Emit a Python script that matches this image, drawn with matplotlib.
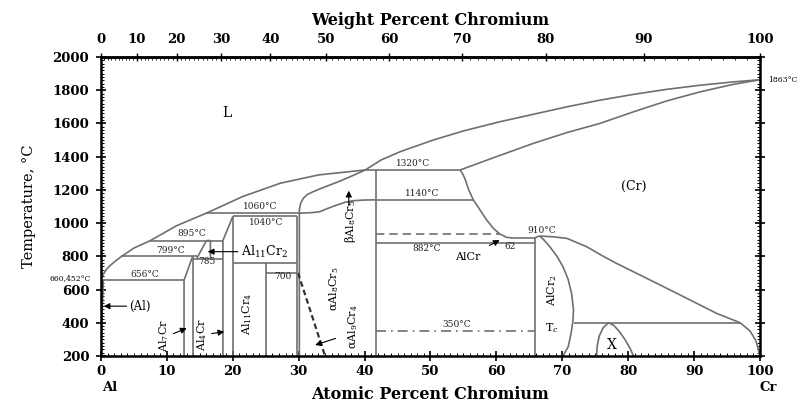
import numpy as np
import matplotlib
matplotlib.use("Agg")
import matplotlib.pyplot as plt
from matplotlib.ticker import MultipleLocator, FixedLocator

plt.rcParams['font.family'] = ['DejaVu Serif']
plt.rcParams['mathtext.fontset'] = 'dejavuserif'

# ---------------- data (atomic % Cr, temperature °C) ----------------
liq_left_x = [0, 0.3, 0.8, 1.4, 2.2, 3.1, 5.0, 7.5, 11.5, 16.0, 21.5, 27.2, 33.0, 40.1]
liq_left_T = [660.452, 690, 720, 745, 772, 799, 850, 895, 985, 1060, 1160, 1240, 1290, 1320]
liq_right_x = [40.1, 42.5, 45.4, 50.4, 55.0, 60.5, 65.6, 70.7, 75.7, 80.8, 85.8, 90.9, 95.9, 100]
liq_right_T = [1320, 1380, 1430, 1500, 1555, 1610, 1655, 1700, 1740, 1775, 1805, 1830, 1850, 1863]
sol_cr_x = [54.5, 60.0, 65.6, 70.7, 75.7, 80.8, 85.8, 90.9, 95.9, 100]
sol_cr_T = [1320, 1400, 1480, 1545, 1600, 1670, 1735, 1790, 1835, 1863]
cr_solvus_hi_x = [54.5, 54.9, 55.3, 55.8, 56.5, 57.5, 58.5, 59.5, 60.5, 61.5, 62.5]
cr_solvus_hi_T = [1320, 1295, 1260, 1200, 1140, 1080, 1020, 970, 935, 915, 910]
cr_solvus_lo_x = [66.6, 68.5, 70.7, 73.7, 76.0, 78.2, 83.3, 88.4, 93.4, 97.0, 98.5, 99.4, 100]
cr_solvus_lo_T = [922, 918, 908, 858, 805, 758, 658, 557, 457, 400, 350, 290, 200]
alcr2_right_x = [65.8, 66.2, 66.6, 67.3, 68.1, 69.2, 70.1, 70.9, 71.4, 71.7, 71.6, 71.3, 70.9, 70.1]
alcr2_right_T = [910, 918, 922, 895, 858, 800, 738, 660, 577, 480, 406, 330, 256, 200]
x_phase_x = [75.2, 75.3, 75.6, 76.2, 77.0, 77.8, 78.6, 79.5, 80.3, 80.8]
x_phase_T = [200, 260, 320, 370, 400, 385, 350, 300, 245, 200]
al_solvus_x = [0.35, 0.2, 0.05, 0]
al_solvus_T = [656, 500, 300, 200]
al8cr5_left_x = [30.1, 30.1, 30.3, 30.7, 31.3, 32.2, 33.4, 34.7, 36.2, 37.8, 39.0, 40.1]
al8cr5_left_T = [200, 1080, 1120, 1149, 1172, 1189, 1209, 1229, 1252, 1279, 1300, 1320]
beta_alpha_x = [30.1, 31.5, 32.5, 33.2, 34.5, 35.8, 37.0, 38.3, 40.0, 41.7]
beta_alpha_T = [1060, 1062, 1065, 1069, 1090, 1109, 1125, 1135, 1139, 1140]
al7cr_left_x = [12.6, 12.6, 13.9]
al7cr_left_T = [200, 656, 799]
al11cr2_x = [14.5, 16.0, 16.6, 16.6]
al11cr2_T = [785, 895, 895, 785]
al4cr_left_x = [18.5, 18.5, 20.0]
al4cr_left_T = [200, 895, 1040]
dashed_700_x = [29.9, 34.0]
dashed_700_T = [700, 200]

# horizontal invariants: (T, x_start, x_end)
iso_T = [656, 799, 785, 895, 1060, 1040, 760, 700, 1320, 1140, 882, 910, 400]
iso_x0 = [0.35, 3.1, 13.9, 7.5, 16.0, 20.0, 20.0, 25.0, 40.1, 41.7, 41.7, 62.5, 71.7]
iso_x1 = [12.6, 14.5, 18.5, 18.5, 30.1, 29.7, 29.7, 29.8, 54.5, 56.5, 65.8, 65.8, 97.0]

# vertical boundaries: (x, T_top), all from 200
vert_x = [13.9, 20.0, 25.0, 29.7, 41.7, 65.8]
vert_T = [799, 1040, 760, 1040, 1320, 910]

dash_935 = (935, 41.7, 60.5)
dashdot_350 = (350, 41.7, 65.8)

temp_labels = ["656°C", "799°C", "895°C", "785", "1060°C", "1040°C", "700",
               "1320°C", "1140°C", "882°C", "910°C", "350°C", "62"]
temp_lab_x = [6.7, 10.5, 13.8, 16.0, 24.1, 25.1, 27.6, 47.4, 48.7, 49.4, 66.9, 54.0, 62.1]
temp_lab_T = [690, 838, 939, 768, 1099, 1002, 677, 1360, 1179, 848, 954, 387, 858]

at_ticks = list(range(0, 101, 10))
wt_ticks = list(range(0, 101, 10))
T_ticks = list(range(200, 2001, 200))

AL, CR = 26.98, 52.00


def at2wt(a):
    a = np.asarray(a, dtype=float)
    return 100 * a * CR / (a * CR + (100 - a) * AL)


def wt2at(w):
    w = np.asarray(w, dtype=float)
    return 100 * (w / CR) / (w / CR + (100 - w) / AL)


# ---------------- figure ----------------
fig = plt.figure(figsize=(8.04, 4.08), dpi=100)
ax = fig.add_axes([101 / 804, 1 - 356 / 408, (760 - 101) / 804, (356 - 57) / 408])
ax.set_xlim(0, 100)
ax.set_ylim(200, 2000)

lc = '#6f6f6f'
lw = 1.2


def line(x, T, **kw):
    kw.setdefault('color', lc)
    kw.setdefault('lw', lw)
    ax.plot(x, T, solid_capstyle='butt', solid_joinstyle='round', **kw)


line(liq_left_x, liq_left_T)
line(liq_right_x, liq_right_T)
line(sol_cr_x, sol_cr_T)
line(cr_solvus_hi_x, cr_solvus_hi_T)
line(cr_solvus_lo_x, cr_solvus_lo_T)
line(alcr2_right_x, alcr2_right_T)
line(x_phase_x, x_phase_T)
line(al_solvus_x, al_solvus_T)
line(al8cr5_left_x, al8cr5_left_T)
line(beta_alpha_x, beta_alpha_T)
line(al7cr_left_x, al7cr_left_T)
line(al11cr2_x, al11cr2_T)
line(al4cr_left_x, al4cr_left_T)
line(dashed_700_x, dashed_700_T, color='#333333', lw=1.6, ls=(0, (2.5, 1.5)))

for T, x0, x1 in zip(iso_T, iso_x0, iso_x1):
    line([x0, x1], [T, T])
for x, T in zip(vert_x, vert_T):
    line([x, x], [200, T])

line([dash_935[1], dash_935[2]], [dash_935[0]] * 2, ls=(0, (5, 3)))
line([dashdot_350[1], dashdot_350[2]], [dashdot_350[0]] * 2, ls=(0, (6, 3, 1, 3)))

# temperature labels
for s, x, T in zip(temp_labels, temp_lab_x, temp_lab_T):
    ax.text(x, T, s, fontsize=6.5, ha='center', va='center', color='#222222')

ax.text(19.1, 1661, 'L', fontsize=10, ha='center', va='center')
ax.text(80.8, 1219, '(Cr)', fontsize=9, ha='center', va='center')
ax.text(101.2, 1863, '1863°C', fontsize=5.5, ha='left', va='center', clip_on=False)
ax.text(-1.6, 668, '660,452°C', fontsize=5.5, ha='right', va='center', clip_on=False)
ax.text(77.5, 266, 'X', fontsize=10, ha='center', va='center')
ax.text(68.4, 365, 'T$_c$', fontsize=8, ha='center', va='center')

ap = dict(arrowstyle='-|>', color='k', lw=0.8, mutation_scale=9, shrinkA=0, shrinkB=0)
ax.annotate('(Al)', xy=(0.4, 500), xytext=(4.3, 500), fontsize=8.5, ha='left', va='center',
            arrowprops=ap)
ax.annotate('Al$_{11}$Cr$_2$', xy=(16.2, 828), xytext=(21.2, 828), fontsize=9,
            ha='left', va='center', arrowprops=ap)
ax.text(9.6, 320, 'Al$_7$Cr', rotation=90, fontsize=8, ha='center', va='center')
ax.annotate('', xy=(13.0, 367), xytext=(11.0, 335), arrowprops=ap)
ax.text(15.3, 330, 'Al$_4$Cr', rotation=90, fontsize=8, ha='center', va='center')
ax.annotate('', xy=(18.7, 346), xytext=(16.8, 335), arrowprops=ap)
ax.text(22.1, 456, 'Al$_{11}$Cr$_4$', rotation=90, fontsize=8, ha='center', va='center')
ax.text(35.3, 608, 'αAl$_8$Cr$_5$', rotation=90, fontsize=8, ha='center', va='center')
ax.text(38.3, 376, 'αAl$_9$Cr$_4$', rotation=90, fontsize=8, ha='center', va='center')
ax.annotate('', xy=(32.5, 266), xytext=(35.6, 306), arrowprops=ap)
ax.text(37.9, 1010, 'βAl$_8$Cr$_5$', rotation=90, fontsize=8, ha='center', va='center')
ax.annotate('', xy=(37.6, 1195), xytext=(37.6, 1105), arrowprops=ap)
ax.annotate('AlCr', xy=(60.5, 898), xytext=(55.6, 795), fontsize=8, ha='center', va='center',
            arrowprops=dict(ap, shrinkA=6))
ax.text(68.4, 597, 'AlCr$_2$', rotation=90, fontsize=8, ha='center', va='center')

# ---------------- axes & ticks ----------------
for sp in ax.spines.values():
    sp.set_linewidth(1.8)

ax.set_xticks(at_ticks)
ax.set_yticks(T_ticks)
ax.xaxis.set_minor_locator(MultipleLocator(1))
ax.yaxis.set_minor_locator(MultipleLocator(20))
ax.tick_params(axis='both', which='major', direction='inout', length=7, width=1.2,
               labelsize=9.5, right=True, top=False)
ax.tick_params(axis='both', which='minor', direction='in', length=2.5, width=0.7,
               right=True, top=False)
ax.tick_params(axis='x', pad=3)
ax.tick_params(axis='y', pad=5)
for lab in ax.get_xticklabels() + ax.get_yticklabels():
    lab.set_fontweight('bold')

ax.set_xlabel('Atomic Percent Chromium', fontsize=11.5, fontweight='bold', labelpad=6)
ax.set_ylabel('Temperature, °C', fontsize=10.5, labelpad=12)

ax.text(1.4, -0.105, 'Al', transform=ax.get_xaxis_transform(), fontsize=9.5,
        fontweight='bold', ha='center', va='center', clip_on=False)
ax.text(101.2, -0.105, 'Cr', transform=ax.get_xaxis_transform(), fontsize=9.5,
        fontweight='bold', ha='center', va='center', clip_on=False)

sec = ax.secondary_xaxis('top', functions=(at2wt, wt2at))
sec.set_xticks(wt_ticks)
sec.xaxis.set_minor_locator(FixedLocator(list(range(0, 101, 1))))
sec.tick_params(which='major', direction='inout', length=6, width=1.0, labelsize=9.5, pad=5)
sec.tick_params(which='minor', direction='in', length=2, width=0.6)
for lab in sec.get_xticklabels():
    lab.set_fontweight('bold')
sec.spines['top'].set_linewidth(1.8)
sec.set_xlabel('Weight Percent Chromium', fontsize=11.5, fontweight='bold', labelpad=6)

fig.savefig('out.png', dpi=100, facecolor='white')
